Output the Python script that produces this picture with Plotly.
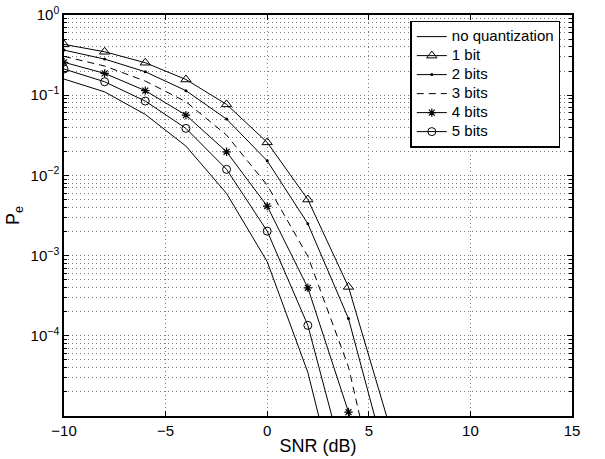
import plotly.graph_objects as go

# SNR points (dB)
snr = [-10, -8, -6, -4, -2, 0, 2, 4, 6]

# Error probability per quantization level
pe_noq = [0.159, 0.110, 0.0576, 0.0232, 0.00596, 8.4e-4, 3.5e-5, 2.5e-7, 3e-9]
pe_1bit = [0.43, 0.348, 0.254, 0.157, 0.0768, 0.0258, 0.0050, 4.07e-4, 7.8e-6]
pe_2bits = [0.365, 0.282, 0.196, 0.114, 0.0504, 0.0152, 0.0025, 1.64e-4, 2.1e-6]
pe_3bits = [0.305, 0.231, 0.150, 0.083, 0.0318, 0.00756, 9.8e-4, 4.1e-5, 2.5e-7]
pe_4bits = [0.257, 0.187, 0.114, 0.0565, 0.0197, 0.00414, 3.97e-4, 1.12e-5, 1.5e-7]
pe_5bits = [0.212, 0.147, 0.0845, 0.0386, 0.0119, 0.00202, 1.35e-4, 2.0e-6, 2e-8]

series_names = ["no quantization", "1 bit", "2 bits", "3 bits", "4 bits", "5 bits"]

x_ticks = [-10, -5, 0, 5, 10, 15]
y_ticks = [1e-4, 1e-3, 1e-2, 1e-1, 1e0]
y_ticktext = ["10<sup>\u22124</sup>", "10<sup>\u22123</sup>", "10<sup>\u22122</sup>",
              "10<sup>\u22121</sup>", "10<sup>0</sup>"]
y_minor = [m * 10 ** e for e in range(-5, 0) for m in range(2, 10)]

styles = [
    dict(mode="lines", line=dict(color="black", width=1)),
    dict(mode="lines+markers", line=dict(color="black", width=1),
         marker=dict(symbol="triangle-up-open", size=9, color="black", line=dict(width=1))),
    dict(mode="lines+markers", line=dict(color="black", width=1),
         marker=dict(symbol="circle", size=3, color="black")),
    dict(mode="lines", line=dict(color="black", width=1, dash="7px,5px")),
    dict(mode="lines+markers", line=dict(color="black", width=1),
         marker=dict(symbol="asterisk-open", size=7, color="black", line=dict(width=1.2, color="black"))),
    dict(mode="lines+markers", line=dict(color="black", width=1),
         marker=dict(symbol="circle-open", size=8, color="black", line=dict(width=1))),
]
data = [pe_noq, pe_1bit, pe_2bits, pe_3bits, pe_4bits, pe_5bits]

fig = go.Figure()
for name, ys, st in zip(series_names, data, styles):
    # legend rows are sized from the legend font (12px); the label itself is drawn at 15px
    fig.add_trace(go.Scatter(x=snr, y=ys,
                             name=f'<span style="font-size:15px">{name}</span>',
                             hovertemplate=f"{name}<br>SNR=%{{x}} dB<br>Pe=%{{y}}<extra></extra>",
                             **st))

font_family = "Liberation Sans, Arial, Helvetica, sans-serif"
grid_col = "#7a7a7a"

fig.update_layout(
    width=605, height=459,
    margin=dict(l=64, r=33, t=15, b=43),
    paper_bgcolor="white", plot_bgcolor="white",
    font=dict(family=font_family, size=15, color="black"),
    showlegend=True,
    legend=dict(x=0.977, xanchor="right", y=0.986, yanchor="top",
                bgcolor="white", bordercolor="black", borderwidth=1.5,
                font=dict(size=12), itemwidth=30, tracegroupgap=0),
    xaxis=dict(range=[-10, 15], tickvals=x_ticks, ticks="inside", ticklen=5,
               tickcolor="black", mirror="allticks", showline=True,
               linecolor="black", linewidth=1.5, showgrid=True,
               gridcolor=grid_col, griddash="1px,3px", gridwidth=1,
               zeroline=False, automargin=False,
               title=dict(text="SNR (dB)", standoff=2),
               tickfont=dict(size=15)),
    yaxis=dict(type="log", range=[-5, 0], tickvals=y_ticks, ticktext=y_ticktext,
               ticks="inside", ticklen=5, tickcolor="black", mirror="allticks",
               showline=True, linecolor="black", linewidth=1.5, showgrid=True,
               gridcolor=grid_col, griddash="1px,3px", gridwidth=1, zeroline=False,
               automargin=False,
               minor=dict(tickvals=y_minor, ticks="inside", ticklen=3,
                          tickcolor="black", showgrid=True, gridcolor=grid_col,
                          griddash="1px,3px", gridwidth=1),
               title=dict(text="P<sub>e</sub>", standoff=6),
               tickfont=dict(size=15)),
)

fig.write_html("out.html", config={"displayModeBar": False},
               post_script="document.body.style.margin='0px';document.body.style.overflow='hidden';")
